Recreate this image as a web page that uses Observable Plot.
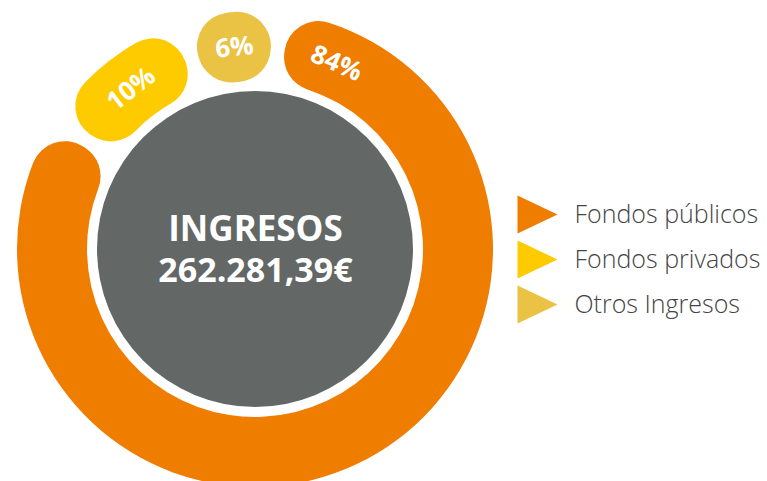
<!DOCTYPE html>
<html>
<head>
<meta charset="utf-8">
<script src="https://cdn.jsdelivr.net/npm/d3@7"></script>
<script src="https://cdn.jsdelivr.net/npm/@observablehq/plot@0.6"></script>
<style>
  html, body { margin: 0; padding: 0; background: #fff; }
  svg { display: block; }
</style>
</head>
<body>
<div id="chart"></div>
<script>
// ---- data ----
const categories = ["Fondos públicos", "Fondos privados", "Otros Ingresos"];
const values = [84, 10, 6];
const labels = ["84%", "10%", "6%"];
const colors = ["#EF7D00", "#FECB00", "#EAC244"];
const centerTitle = "INGRESOS";
const centerValue = "262.281,39€";

// ---- geometry / style ----
const W = 767, H = 481;
const cxPx = 255, cyPx = 249;      // donut centre in pixels
const outerR = 238, innerR = 168, holeR = 158, cornerR = 34;
const deg = Math.PI / 180;
const gap = 4 * deg;
const font = "Open Sans, Lato, sans-serif";

const rows = categories.map((c, i) => ({category: c, value: values[i], label: labels[i]}));
const pie = d3.pie().sort(null).value(d => d.value)
  .startAngle(6.5 * deg).endAngle(366.5 * deg).padAngle(gap);
// trim the gap off each side as a constant angle
const arcs = pie(rows).map(a => ({...a, startAngle: a.startAngle + gap / 2, endAngle: a.endAngle - gap / 2, padAngle: 0}));

// label positions (polar -> chart units, y up)
const labelR = (outerR + innerR) / 2;
const labelRows = arcs.map((a, i) => {
  const ang = i === 0 ? a.startAngle + 15 * deg : (a.startAngle + a.endAngle) / 2;
  return {x: labelR * Math.sin(ang), y: labelR * Math.cos(ang), rotate: ang / deg, text: a.data.label};
});

// legend rows
const legendRows = categories.map((c, i) => ({category: c, x: 282, y: 35 - i * 45}));

// right-pointing triangle symbol
const rightTriangle = {
  draw(ctx, size) {
    const r = Math.sqrt(size / Math.PI);
    ctx.moveTo(-r, -r * 0.95);
    ctx.lineTo(r, 0);
    ctx.lineTo(-r, r * 0.95);
    ctx.closePath();
  }
};

const donut = (index, scales) => {
  const cx = scales.x(0), cy = scales.y(0);
  const k = scales.x(1) - scales.x(0);
  const g = d3.create("svg:g");
  g.append("circle").attr("cx", cx).attr("cy", cy).attr("r", holeR * k).attr("fill", "#636866");
  const arcGen = d3.arc().innerRadius(innerR * k).outerRadius(outerR * k).cornerRadius(cornerR * k);
  g.selectAll("path").data(arcs).join("path")
    .attr("transform", `translate(${cx},${cy})`)
    .attr("d", arcGen)
    .attr("fill", d => scales.color(d.data.category));
  return g.node();
};

const centerText = {x: 0, y: 0, fill: "white", fontSize: 34, fontWeight: 700, fontFamily: font};

const chart = Plot.plot({
  width: W,
  height: H,
  margin: 0,
  x: {domain: [-cxPx, W - cxPx], axis: null},
  y: {domain: [cyPx - H, cyPx], axis: null},
  color: {domain: categories, range: colors},
  style: {background: "white"},
  marks: [
    donut,
    Plot.text([centerTitle], {...centerText, text: d => d, dy: -20, fontSize: 35}),
    Plot.text([centerValue], {...centerText, text: d => d, dy: 22}),
    Plot.text(labelRows, {
      x: "x", y: "y", text: "text", rotate: "rotate", fill: "white",
      fontSize: 26, fontWeight: 700, fontFamily: font
    }),
    Plot.dot(legendRows, {x: "x", y: "y", fill: "category", symbol: rightTriangle, r: 20, stroke: null}),
    Plot.text(legendRows, {
      x: d => d.x + 37, y: "y", text: "category", textAnchor: "start",
      fill: "#444444", fontSize: 25, fontWeight: 300, fontFamily: font
    })
  ]
});
document.getElementById("chart").appendChild(chart);
</script>
</body>
</html>
